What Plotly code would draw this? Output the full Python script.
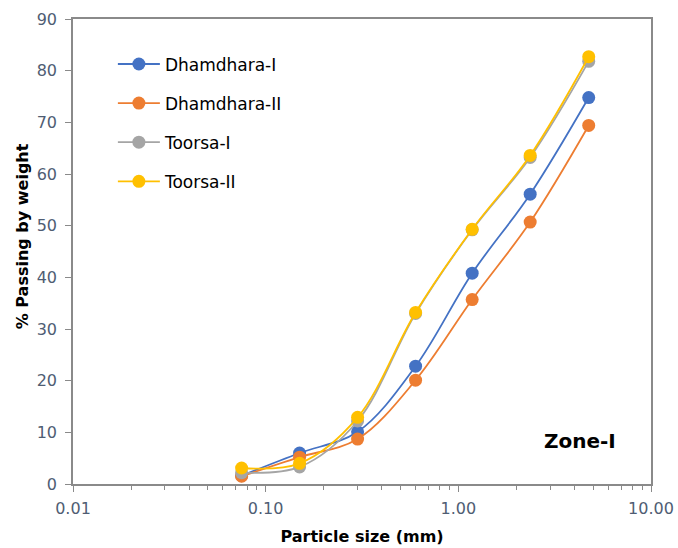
import plotly.graph_objects as go

# Sieve sizes (mm) and cumulative percentage passing for each sand sample
sieve_mm = [0.075, 0.15, 0.3, 0.6, 1.18, 2.36, 4.75]
dhamdhara_1 = [1.6, 6.0, 10.1, 22.8, 40.8, 56.1, 74.8]
dhamdhara_2 = [1.5, 5.2, 8.7, 20.1, 35.7, 50.7, 69.4]
toorsa_1 = [2.2, 3.3, 12.2, 33.0, 49.2, 63.2, 81.8]
toorsa_2 = [3.1, 4.0, 12.9, 33.2, 49.3, 63.6, 82.7]

series_names = ["Dhamdhara-I", "Dhamdhara-II", "Toorsa-I", "Toorsa-II"]
series_values = [dhamdhara_1, dhamdhara_2, toorsa_1, toorsa_2]
series_colors = ["#4472C4", "#ED7D31", "#A5A5A5", "#FFC000"]

x_tick_vals = [0.01, 0.1, 1, 10]
x_tick_text = ["0.01", "0.10", "1.00", "10.00"]
x_minor_vals = [m * d for d in (0.01, 0.1, 1) for m in range(2, 10)]
y_tick_vals = list(range(0, 91, 10))

FONT = "DejaVu Sans"
TICK_COLOR = "#4F5D73"
AXIS_COLOR = "#8A8A8A"

fig = go.Figure()
for name, vals, col in zip(series_names, series_values, series_colors):
    fig.add_trace(go.Scatter(
        x=sieve_mm, y=vals, name=name, legendgroup=name,
        mode="lines+markers",
        line=dict(color=col, width=1.8, shape="spline", smoothing=1.0),
        marker=dict(color=col, size=13),
    ))

fig.update_layout(
    width=678, height=548,
    margin=dict(l=73, r=27, t=19, b=64),
    paper_bgcolor="white", plot_bgcolor="white",
    font=dict(family=FONT, size=16, color=TICK_COLOR),
    showlegend=True,
    legend=dict(
        x=0.069, y=0.941, xanchor="left", yanchor="top",
        bgcolor="rgba(0,0,0,0)",
        font=dict(family=FONT, size=17, color="#000000"),
        tracegroupgap=14, itemwidth=42,
    ),
    xaxis=dict(
        type="log", range=[-2, 1], automargin=False,
        tickmode="array", tickvals=x_tick_vals, ticktext=x_tick_text,
        ticks="outside", ticklen=6, tickcolor=AXIS_COLOR, tickwidth=1,
        ticklabelstandoff=3,
        minor=dict(ticks="outside", ticklen=4, tickcolor=AXIS_COLOR,
                   tickmode="array", tickvals=x_minor_vals),
        showline=True, linecolor=AXIS_COLOR, linewidth=1.5, mirror=True,
        showgrid=False, zeroline=False,
        tickfont=dict(family=FONT, size=16, color=TICK_COLOR),
        title=dict(text="<b>Particle size (mm)</b>", standoff=14,
                   font=dict(family=FONT, size=16, color="#000000")),
    ),
    yaxis=dict(
        range=[0, 90], automargin=False,
        tickmode="array", tickvals=y_tick_vals,
        ticks="outside", ticklen=6, tickcolor=AXIS_COLOR, tickwidth=1,
        ticklabelstandoff=5,
        showline=True, linecolor=AXIS_COLOR, linewidth=1.5, mirror=True,
        showgrid=False, zeroline=False,
        tickfont=dict(family=FONT, size=16, color=TICK_COLOR),
    ),
    annotations=[
        dict(text="<b>% Passing by weight</b>", textangle=-90,
             xref="paper", yref="paper", x=-0.088, y=0.533,
             xanchor="center", yanchor="middle", showarrow=False,
             font=dict(family=FONT, size=16, color="#000000")),
        dict(text="<b>Zone-I</b>", xref="paper", yref="paper",
             x=0.877, y=0.093, xanchor="center", yanchor="middle",
             showarrow=False,
             font=dict(family=FONT, size=20, color="#000000")),
    ],
)

fig.write_html("out.html")
